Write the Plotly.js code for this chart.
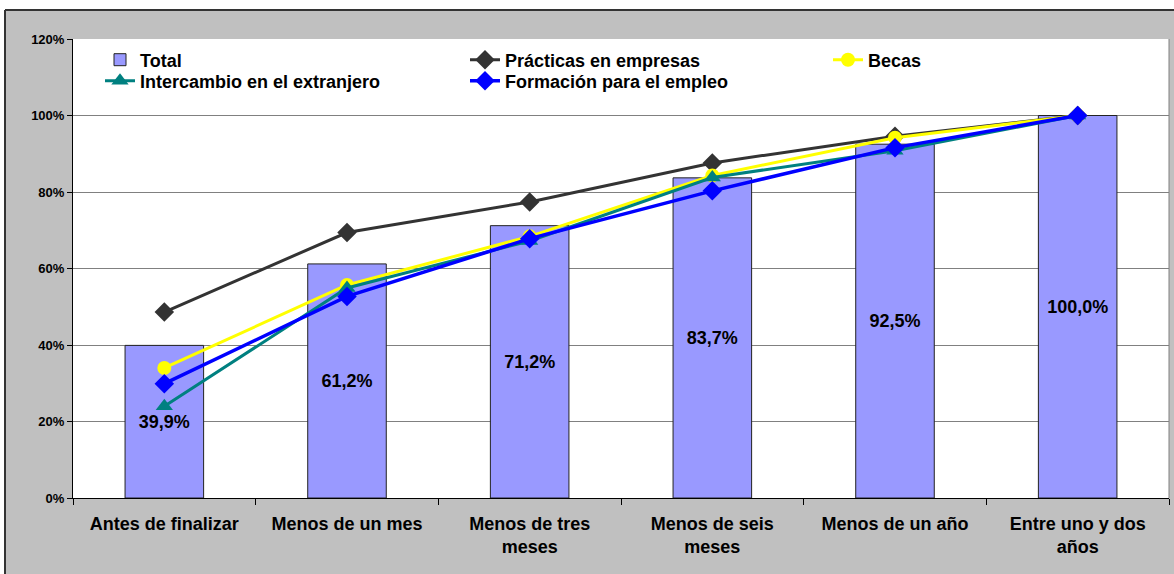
<!DOCTYPE html>
<html>
<head>
<meta charset="utf-8">
<script src="https://cdn.plot.ly/plotly-3.0.1.min.js"></script>
<style>html,body{margin:0;padding:0;background:#fff;}#chart{width:1174px;height:574px;}</style>
</head>
<body>
<div id="chart"></div>
<script>
var categories = ["Antes de finalizar", "Menos de un mes", "Menos de tres<br>meses", "Menos de seis<br>meses", "Menos de un año", "Entre uno y dos<br>años"];
var total = [39.9, 61.2, 71.2, 83.7, 92.5, 100.0];
var practicas = [48.6, 69.4, 77.4, 87.6, 94.6, 100.0];
var becas = [34.0, 55.7, 68.4, 84.3, 94.2, 100.0];
var intercambio = [24.0, 54.9, 67.2, 83.8, 90.8, 100.0];
var formacion = [29.9, 52.7, 67.8, 80.3, 91.6, 100.0];
var seriesNames = ["Total", "Prácticas en empresas", "Becas", "Intercambio en el extranjero", "Formación para el empleo"];
var yTicks = [0, 20, 40, 60, 80, 100, 120];
var yTickLabels = ["0%", "20%", "40%", "60%", "80%", "100%", "120%"];

var L = 73, R = 5, T = 39, B = 76, WID = 1174, HEI = 574;
var PW = WID - L - R, PH = HEI - T - B;
function px(x) { return (x - L) / PW; }
function py(y) { return (HEI - B - y) / PH; }

var barLabels = total.map(function (v) { return v.toFixed(1).replace('.', ',') + '%'; });
var FONT = 'Liberation Sans, Arial, sans-serif';

var traces = [
  {
    type: 'bar', x: categories, y: total, name: seriesNames[0], legend: 'legend',
    marker: {color: '#9999ff', line: {color: '#222222', width: 1}},
    text: barLabels, textposition: 'inside', insidetextanchor: 'middle',
    textfont: {size: 18, color: '#000000', family: FONT, weight: 700},
    textangle: 0, hoverinfo: 'none'
  },
  {
    type: 'scatter', mode: 'lines+markers', x: categories, y: practicas, name: seriesNames[1], legend: 'legend2',
    line: {color: '#333333', width: 3}, marker: {symbol: 'diamond', size: 15, color: '#333333'}
  },
  {
    type: 'scatter', mode: 'lines+markers', x: categories, y: becas, name: seriesNames[2], legend: 'legend3',
    line: {color: '#ffff00', width: 3}, marker: {symbol: 'circle', size: 14, color: '#ffff00'}
  },
  {
    type: 'scatter', mode: 'lines+markers', x: categories, y: intercambio, name: seriesNames[3], legend: 'legend4',
    line: {color: '#008080', width: 3}, marker: {symbol: 'triangle-up', size: 15, color: '#008080'}
  },
  {
    type: 'scatter', mode: 'lines+markers', x: categories, y: formacion, name: seriesNames[4], legend: 'legend5',
    line: {color: '#0000ff', width: 3.5}, marker: {symbol: 'diamond', size: 15, color: '#0000ff'}
  }
];

function legendAt(textX, rowY) {
  return {
    orientation: 'v', x: px(textX - 40), y: py(rowY), xanchor: 'left', yanchor: 'middle',
    bgcolor: 'rgba(0,0,0,0)', borderwidth: 0,
    font: {size: 18, family: FONT, weight: 700, color: '#000000'}
  };
}

var layout = {
  width: WID, height: HEI,
  margin: {l: L, r: R, t: T, b: B, pad: 0},
  paper_bgcolor: '#c0c0c0', plot_bgcolor: '#ffffff',
  font: {family: FONT, color: '#000000', size: 13, weight: 700},
  bargap: 0.57,
  showlegend: true,
  legend: legendAt(140, 60),
  legend2: legendAt(505, 60),
  legend3: legendAt(868, 60),
  legend4: legendAt(140, 81),
  legend5: legendAt(505, 81),
  xaxis: {
    type: 'category', showgrid: false, showline: true, linecolor: '#000000', linewidth: 1,
    ticks: 'outside', ticklen: 6, tickcolor: '#000000', tickson: 'boundaries',
    tickfont: {size: 18, weight: 700}, ticklabelstandoff: 9, zeroline: false, fixedrange: true
  },
  yaxis: {
    range: [0, 120], tickmode: 'array', tickvals: yTicks, ticktext: yTickLabels,
    showgrid: true, gridcolor: '#808080', gridwidth: 1,
    showline: true, linecolor: '#000000', linewidth: 1, ticks: 'outside', ticklen: 5, tickcolor: '#000000',
    tickfont: {size: 13, weight: 700}, zeroline: false, fixedrange: true
  },
  shapes: [
    {type: 'rect', xref: 'paper', yref: 'paper', x0: px(-10), x1: px(WID + 10), y0: py(10), y1: py(-10),
      fillcolor: '#ffffff', line: {width: 0}, layer: 'below'},
    {type: 'rect', xref: 'paper', yref: 'paper', x0: px(-10), x1: px(5), y0: py(HEI + 10), y1: py(-10),
      fillcolor: '#ffffff', line: {width: 0}, layer: 'below'},
    {type: 'line', xref: 'paper', yref: 'paper', x0: px(5), x1: px(WID + 10), y0: py(10), y1: py(10),
      line: {color: '#333333', width: 2}},
    {type: 'line', xref: 'paper', yref: 'paper', x0: px(5), x1: px(5), y0: py(10), y1: py(HEI + 10),
      line: {color: '#333333', width: 2}},
    {type: 'line', xref: 'paper', yref: 'paper', x0: 1, x1: 1, y0: 0, y1: 1,
      line: {color: '#808080', width: 1}}
  ]
};

Plotly.newPlot('chart', traces, layout, {displayModeBar: false, staticPlot: true});
</script>
</body>
</html>
